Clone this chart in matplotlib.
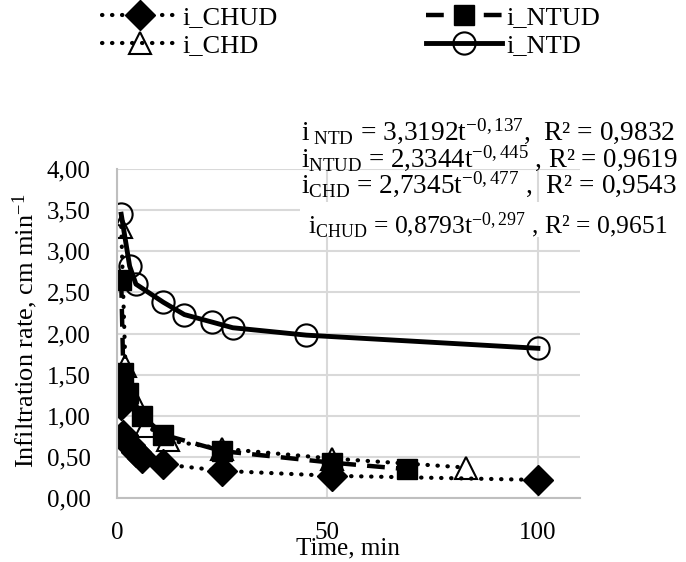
import matplotlib
matplotlib.use('Agg')
import matplotlib.pyplot as plt
from matplotlib.ticker import FuncFormatter
from matplotlib.patches import Rectangle
from matplotlib.transforms import Bbox, TransformedBbox

plt.rcParams['font.family'] = ['Liberation Serif', 'DejaVu Serif']
plt.rcParams['mathtext.fontset'] = 'custom'
plt.rcParams['mathtext.rm'] = 'Liberation Serif'
plt.rcParams['mathtext.it'] = 'Liberation Serif:italic'

# data (time in min, infiltration rate in cm/min)
t_chud = [1, 1.5, 3, 4.5, 6, 11, 25, 51, 100]
i_chud = [1.13, 0.77, 0.65, 0.56, 0.49, 0.41, 0.33, 0.27, 0.22]

t_chd = [1, 2, 4, 7, 12, 25, 51, 83]
i_chd = [3.30, 1.60, 1.20, 0.88, 0.70, 0.60, 0.48, 0.37]

t_ntud = [1, 1.5, 2.5, 6, 11, 25, 51, 69]
i_ntud = [2.65, 1.52, 1.28, 1.00, 0.77, 0.57, 0.43, 0.35]

t_ntd = [1, 3, 4.5, 11, 16, 22.5, 27.5, 45, 100]
i_ntd = [3.45, 2.82, 2.60, 2.38, 2.23, 2.14, 2.07, 1.98, 1.82]

eq_ntd = r'$\mathrm{i}_{\ \mathrm{NTD}}$ = 3,3192t$^{\mathrm{-0,137}}$,  R² = 0,9832'
eq_ntud = r'$\mathrm{i}_{\mathrm{NTUD}}$ = 2,3344t$^{\mathrm{-0,445}}$ , R² = 0,9619'
eq_chd = r'$\mathrm{i}_{\mathrm{CHD}}$ = 2,7345t$^{\mathrm{-0,477}}$ ,  R² = 0,9543'
eq_chud = r'$\mathrm{i}_{\mathrm{CHUD}}$ = 0,8793t$^{\mathrm{-0,297}}$ , R² = 0,9651'

W, H = 686, 562
fig = plt.figure(figsize=(W / 100, H / 100), dpi=100)
ax = fig.add_axes([117 / W, 1 - 498 / H, (580 - 117) / W, (498 - 169) / H])

dots = (0, (0.1, 2.3))
l1, = ax.plot(t_chud, i_chud, color='black', lw=3, linestyle=dots, dash_capstyle='round',
              marker='D', ms=15, mfc='black', mec='black', label='i_CHUD')
l2, = ax.plot(t_chd, i_chd, color='black', lw=3, linestyle=dots, dash_capstyle='round',
              marker='^', ms=16, mfc='none', mec='black', mew=1.5, label='i_CHD')
l3, = ax.plot(t_ntud, i_ntud, color='black', lw=3.2, linestyle=(0, (4, 2.5)),
              marker='s', ms=15, mfc='black', mec='black', label='i_NTUD')
l4, = ax.plot(t_ntd, i_ntd, color='black', lw=3.5, linestyle='-',
              marker='o', ms=16, mfc='none', mec='black', mew=1.5, label='i_NTD')

ax.set_xlim(0, 110)
ax.set_ylim(0, 4)
ax.set_xticks([0, 50, 100])
ax.set_yticks([0, 0.5, 1, 1.5, 2, 2.5, 3, 3.5, 4])
ax.yaxis.set_major_formatter(FuncFormatter(lambda v, p: f'{v:.2f}'.replace('.', ',')))
ax.tick_params(length=0, labelsize=18)
ax.tick_params(axis='y', pad=19)
ax.tick_params(axis='x', pad=17)
ax.grid(color='#d9d9d9', lw=1.5)
ax.set_axisbelow(True)
for s in ['top', 'right']:
    ax.spines[s].set_visible(False)
for s in ['left', 'bottom']:
    ax.spines[s].set_color('#bfbfbf')
    ax.spines[s].set_linewidth(1.5)

fig.text(25 / W, 1 - 331 / H, 'Infiltration rate, cm min$^{\\mathrm{-1}}$', rotation=90,
         ha='center', va='center', fontsize=19)
fig.text(348 / W, 1 - 548 / H, 'Time, min', ha='center', va='center', fontsize=18)

fig.legend(handles=[l1, l2, l3, l4], loc='upper left', ncol=2,
           bbox_to_anchor=(102 / W, 1 - 6 / H), frameon=False, fontsize=19,
           borderpad=0, borderaxespad=0, handlelength=2.9, handletextpad=0.15,
           columnspacing=5.6, labelspacing=0.15, numpoints=1)

# white box behind the last equation, as in the original chart
fig.patches.append(Rectangle((300 / W, 1 - 237 / H), 285 / W, 35 / H,
                             transform=fig.transFigure, facecolor='white',
                             edgecolor='none', zorder=5))

renderer = fig.canvas.get_renderer()


def fit_text(x, base, s, width):
    t = fig.text(x / W, 1 - base / H, s, ha='left', va='baseline', fontsize=18, zorder=6)
    w = t.get_window_extent(renderer).width
    t.set_fontsize(18 * width / w)
    return t


fit_text(301, 140, eq_ntd, 374)
fit_text(301, 167, eq_ntud, 376)
fit_text(301, 193, eq_chd, 376)
t = fit_text(308, 233, eq_chud, 359)
t.set_clip_on(True)
t.set_clip_box(TransformedBbox(Bbox([[0, 1 - 237 / H], [1, 1]]), fig.transFigure))

fig.savefig('out.png', dpi=100)
